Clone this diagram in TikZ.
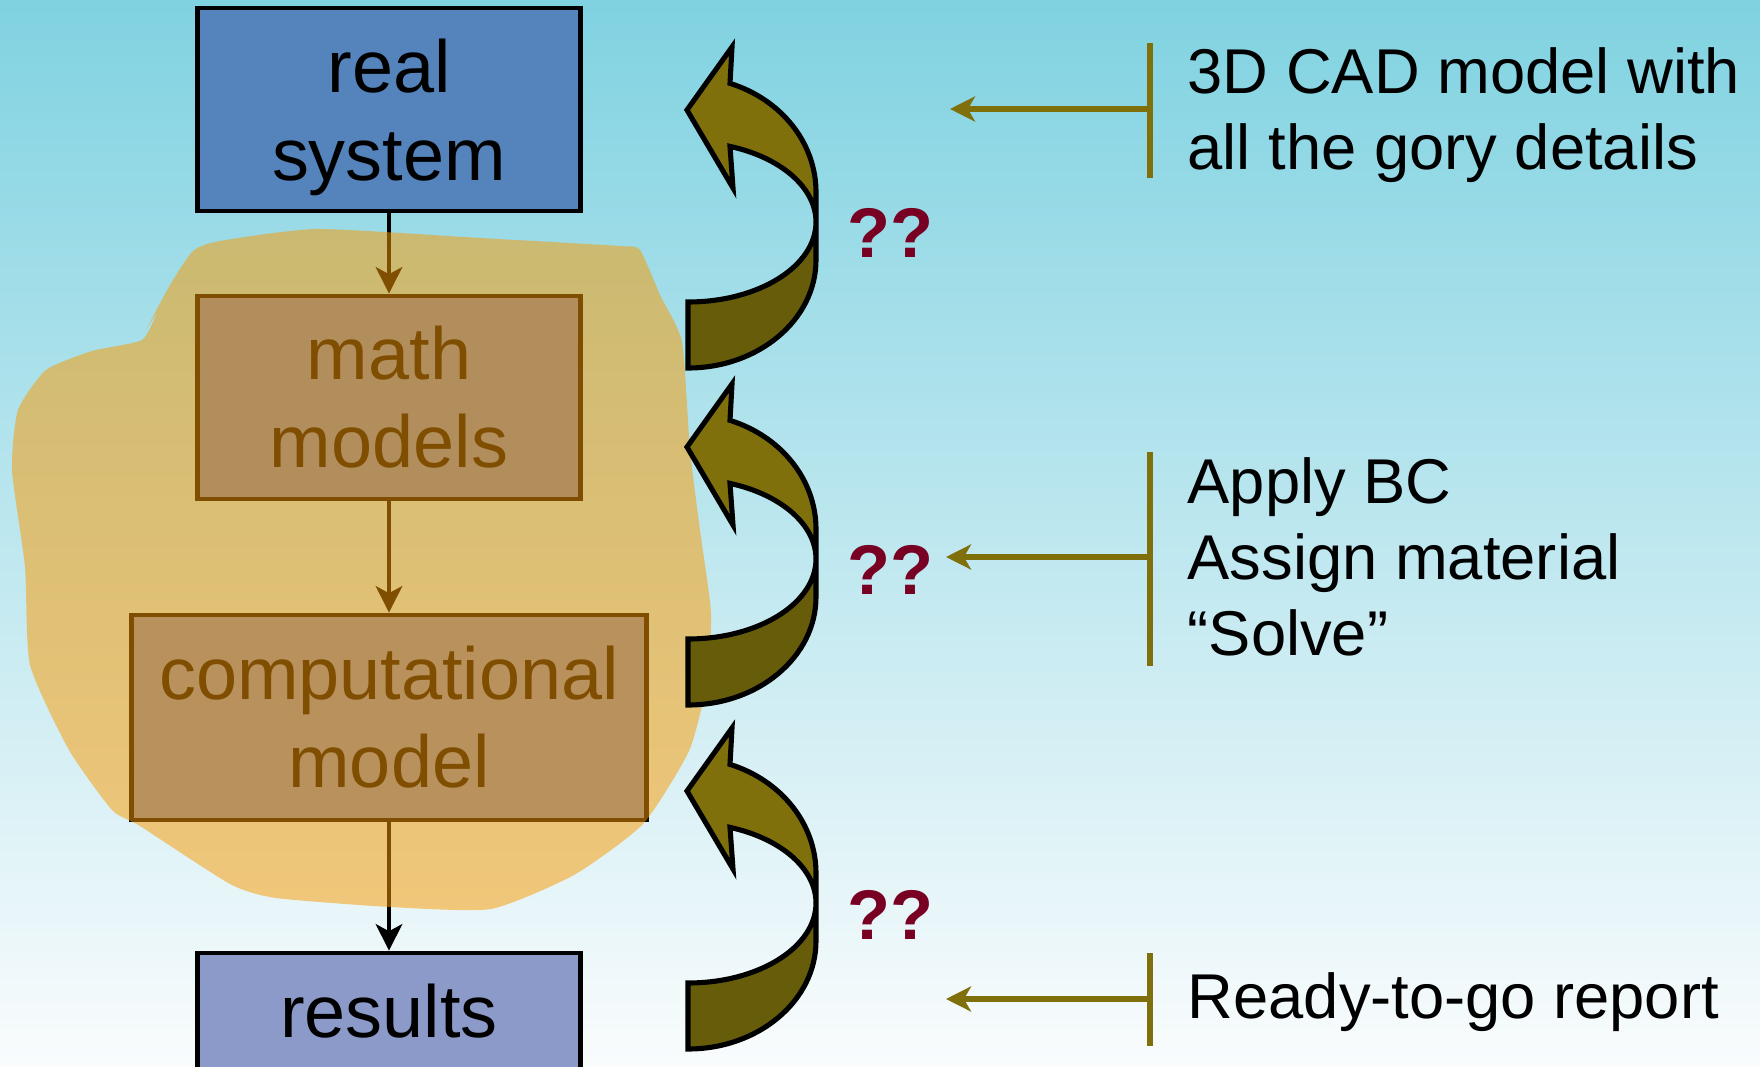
\documentclass[tikz,border=0pt]{standalone}
\usepackage{fontspec}
\setmainfont{Liberation Sans}
\usetikzlibrary{arrows.meta}

\begin{document}
\begin{tikzpicture}[x=0.01cm,y=-0.01cm,
	box/.style={draw=black,line width=1.35pt,minimum width=3.835cm,minimum height=2.03cm,align=center,inner sep=0pt,font=\fontsize{21}{25}\selectfont},
	flow/.style={-{Stealth[length=7.5pt,width=7.5pt,inset=2pt]},line width=1.3pt},
	curl/.style={draw=black,line width=1.45pt,line join=miter},
	ask/.style={text=qred,font=\bfseries\fontsize{20}{24}\selectfont},
	bar/.style={draw=linecol,line width=1.5pt},
	pointer/.style={draw=linecol,line width=1.5pt,-{Stealth[length=7.1pt,width=7.1pt,inset=2pt]}},
	note/.style={anchor=west,align=left,inner sep=0pt,font=\fontsize{18}{21.6}\selectfont}]
\definecolor{bgtop}{RGB}{128,210,225}
\definecolor{bgbot}{RGB}{250,252,253}
	\useasboundingbox (0,0) rectangle (1760,1067);
	\shade[top color=bgtop,bottom color=bgbot] (0,0) rectangle (1760,1067);
% the four stages
\definecolor{boxblue}{RGB}{84,132,187}
\definecolor{mathblue}{RGB}{103,130,188}
\definecolor{compblue}{RGB}{118,136,190}
\definecolor{resblue}{RGB}{139,154,200}
	\node[box,fill=boxblue] (real) at (389,109.5) {\rule{0pt}{19.5pt}real\\system};
	\node[box,fill=mathblue] (math) at (389,397.5) {math\\models};
	\node[box,fill=compblue,minimum width=5.14cm,minimum height=2.05cm] (comp) at (389,717.5) {computational\\model};
	\node[box,fill=resblue,minimum height=1.17cm] (res) at (389,1011.5) {results};
	\draw[flow] (real) -- (math);
	\draw[flow] (math) -- (comp);
	\draw[flow] (comp) -- (res);
% orange cloud over the middle
\definecolor{blob}{RGB}{250,154,0}
	\fill[blob,opacity=0.51] plot[smooth cycle,tension=0.35] coordinates {
		(317,229) (480,238) (620,246) (640,250) (660,295) (682,342) (690,450) (700,530)
		(711,613) (707,682) (689,751) (643,824) (574,875) (491,909) (390,907)
		(276,898) (230,884) (140,826) (112,810) (69,750) (30,665) (25,567) (12,470)
		(18,410) (46,370) (92,351) (142,340) (157,312) (146,330) (170,285) (193,251) (220,241)};
% curved arrows
\definecolor{curldark}{RGB}{102,92,10}
\definecolor{curllight}{RGB}{128,112,12}
\begin{scope}[shift={(0,0)}]
	\filldraw[curl,fill=curldark] (688,302) .. controls (758.7,302) and (816,266.2) .. (816,222) -- (816,260) .. controls (816,319.6) and (758.7,368) .. (688,368) -- cycle;
	\filldraw[curl,fill=curllight] (816,222) .. controls (816,188) and (781.4,157.6) .. (730,146.4) -- (733,188) -- (687,110) -- (732,47) -- (730,83.4) .. controls (781.4,99.4) and (816,143.1) .. (816,192) -- cycle;
\end{scope}
\begin{scope}[shift={(0,337)}]
	\filldraw[curl,fill=curldark] (688,302) .. controls (758.7,302) and (816,266.2) .. (816,222) -- (816,260) .. controls (816,319.6) and (758.7,368) .. (688,368) -- cycle;
	\filldraw[curl,fill=curllight] (816,222) .. controls (816,188) and (781.4,157.6) .. (730,146.4) -- (733,188) -- (687,110) -- (732,47) -- (730,83.4) .. controls (781.4,99.4) and (816,143.1) .. (816,192) -- cycle;
\end{scope}
\begin{scope}[shift={(0,681)}]
	\filldraw[curl,fill=curldark] (688,302) .. controls (758.7,302) and (816,266.2) .. (816,222) -- (816,260) .. controls (816,319.6) and (758.7,368) .. (688,368) -- cycle;
	\filldraw[curl,fill=curllight] (816,222) .. controls (816,188) and (781.4,157.6) .. (730,146.4) -- (733,188) -- (687,110) -- (732,47) -- (730,83.4) .. controls (781.4,99.4) and (816,143.1) .. (816,192) -- cycle;
\end{scope}
\definecolor{qred}{RGB}{120,0,35}
	\node[ask] (q1) at (890,233) {??};
	\node[ask] (q2) at (890,570) {??};
	\node[ask] (q3) at (890,915) {??};
% remarks on the right
\definecolor{linecol}{RGB}{128,112,12}
	\coordinate (t1) at (1150,43);
	\coordinate (b1) at (1150,178);
	\coordinate (s1) at (1150,109);
	\coordinate (e1) at (950,109);
	\draw[bar] (t1) -- (b1);
	\draw[pointer] (s1) -- (e1);
	\node[note] (n1) at (1187,115) {3D CAD model with\\all the gory details};
	\coordinate (t2) at (1150,452);
	\coordinate (b2) at (1150,666);
	\coordinate (s2) at (1150,557);
	\coordinate (e2) at (946,557);
	\draw[bar] (t2) -- (b2);
	\draw[pointer] (s2) -- (e2);
	\node[note] (n2) at (1187,557) {Apply BC\\Assign material\\“Solve”};
	\coordinate (t3) at (1150,953);
	\coordinate (b3) at (1150,1046);
	\coordinate (s3) at (1150,999);
	\coordinate (e3) at (946,999);
	\draw[bar] (t3) -- (b3);
	\draw[pointer] (s3) -- (e3);
	\node[note] (n3) at (1187,1002) {Ready-to-go report};
\end{tikzpicture}
\end{document}
